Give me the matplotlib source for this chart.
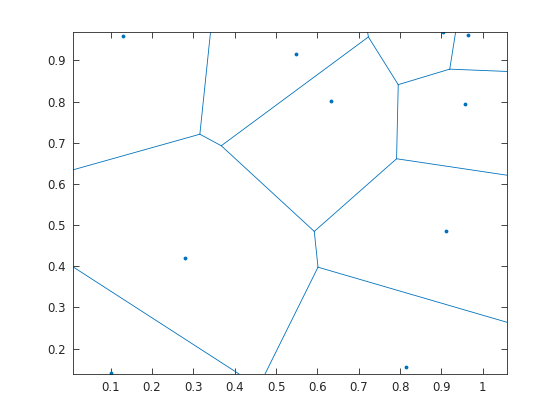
import numpy as np
import matplotlib
matplotlib.use("Agg")
import matplotlib.pyplot as plt
import matplotlib.tri as mtri

# site coordinates
px = [0.129, 0.5475, 0.632, 0.9036, 0.9638, 0.957, 0.911, 0.2805, 0.100, 0.8146]
py = [0.958, 0.9145, 0.8007, 0.970, 0.9605, 0.7935, 0.486, 0.4206, 0.142, 0.1567]

xticks = [0.1, 0.2, 0.3, 0.4, 0.5, 0.6, 0.7, 0.8, 0.9, 1.0]
xticklabels = ["0.1", "0.2", "0.3", "0.4", "0.5", "0.6", "0.7", "0.8", "0.9", "1"]
yticks = [0.2, 0.3, 0.4, 0.5, 0.6, 0.7, 0.8, 0.9]
yticklabels = ["0.2", "0.3", "0.4", "0.5", "0.6", "0.7", "0.8", "0.9"]
xlim = (0.0086, 1.058)
ylim = (0.139, 0.970)

blue = "#0072BD"
dark = "#262626"

pts = np.column_stack([px, py])
tri = mtri.Triangulation(px, py)


def circumcenter(a, b, c):
    d = 2 * (a[0] * (b[1] - c[1]) + b[0] * (c[1] - a[1]) + c[0] * (a[1] - b[1]))
    ux = ((a @ a) * (b[1] - c[1]) + (b @ b) * (c[1] - a[1]) + (c @ c) * (a[1] - b[1])) / d
    uy = ((a @ a) * (c[0] - b[0]) + (b @ b) * (a[0] - c[0]) + (c @ c) * (b[0] - a[0])) / d
    return np.array([ux, uy])


cc = np.array([circumcenter(*pts[t]) for t in tri.triangles])
center = pts.mean(axis=0)

segs = []
for t, tr in enumerate(tri.triangles):
    for j in range(3):
        nb = tri.neighbors[t, j]
        a, b = pts[tr[j]], pts[tr[(j + 1) % 3]]
        if nb >= 0:
            if nb > t:
                segs.append((cc[t], cc[nb]))
        else:
            tvec = (b - a) / np.linalg.norm(b - a)
            n = np.array([-tvec[1], tvec[0]])
            mid = (a + b) / 2
            d = np.sign((mid - center) @ n) * n
            segs.append((cc[t], cc[t] + d * 10))

fig = plt.figure(figsize=(5.6, 4.2), dpi=100)
ax = fig.add_axes([0.13, 0.11, 0.775, 0.815])

for s0, s1 in segs:
    ax.plot([s0[0], s1[0]], [s0[1], s1[1]], color=blue, lw=0.6)
ax.plot(px, py, ".", color=blue, markersize=3.5)

ax.set_xlim(*xlim)
ax.set_ylim(*ylim)
ax.set_xticks(xticks)
ax.set_xticklabels(xticklabels)
ax.set_yticks(yticks)
ax.set_yticklabels(yticklabels)
ax.tick_params(direction="in", top=True, right=True, length=4, width=0.6,
               labelsize=8.5, colors=dark, labelcolor=dark, pad=5)
for sp in ax.spines.values():
    sp.set_color(dark)
    sp.set_linewidth(0.6)

fig.savefig("out.png", dpi=100)
